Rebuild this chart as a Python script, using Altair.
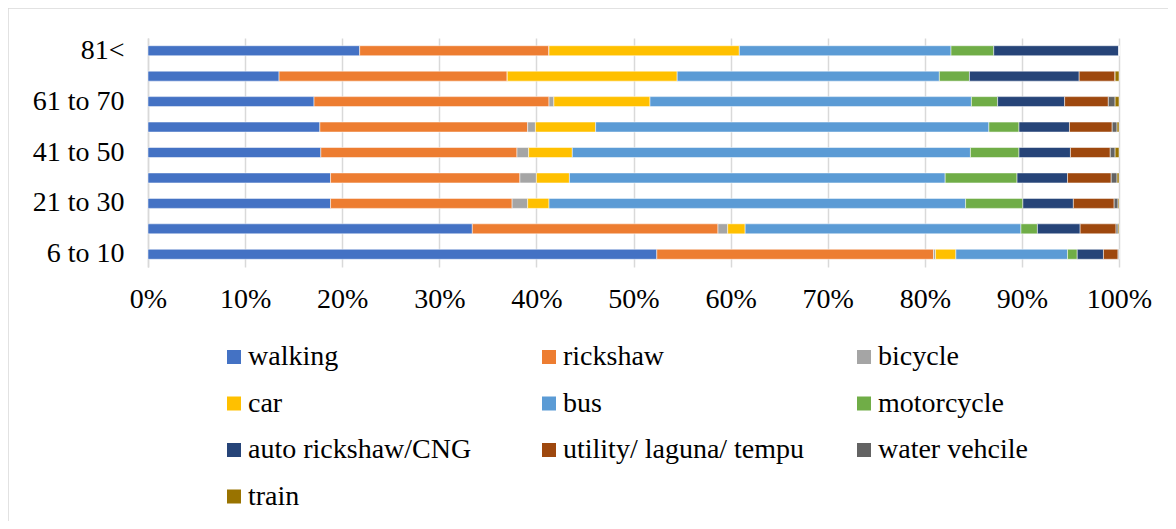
import altair as alt
import pandas as pd

age_groups = ["81<", "71 to 80", "61 to 70", "51 to 60", "41 to 50",
              "31 to 40", "21 to 30", "11 to 20", "6 to 10"]
shown_labels = ["81<", "61 to 70", "41 to 50", "21 to 30", "6 to 10"]
padded_labels = ["61 to 70", "21 to 30"]  # labels that carry a trailing space
modes = ["walking", "rickshaw", "bicycle", "car", "bus", "motorcycle",
         "auto rickshaw/CNG", "utility/ laguna/ tempu", "water vehcile", "train"]
colors = ["#4472C4", "#ED7D31", "#A5A5A5", "#FFC000", "#5B9BD5", "#70AD47",
          "#264478", "#9E480E", "#636363", "#997300"]

# percentage share of each mode, per age group (same order as age_groups)
walking    = [21.8, 13.5, 17.1, 17.7, 17.8, 18.8, 18.8, 33.4, 52.4]
rickshaw   = [19.5, 23.5, 24.2, 21.4, 20.2, 19.5, 18.7, 25.3, 28.5]
bicycle    = [0.0, 0.0, 0.5, 0.8, 1.2, 1.7, 1.6, 1.0, 0.2]
car        = [19.6, 17.5, 9.9, 6.2, 4.5, 3.4, 2.2, 1.8, 2.1]
bus        = [21.8, 27.0, 33.1, 40.5, 41.0, 38.7, 42.9, 28.4, 11.5]
motorcycle = [4.4, 3.1, 2.7, 3.1, 5.0, 7.4, 5.9, 1.7, 1.0]
auto_cng   = [12.9, 11.3, 6.9, 5.2, 5.3, 5.2, 5.2, 4.4, 2.7]
utility    = [0.0, 3.7, 4.5, 4.4, 4.1, 4.5, 4.2, 3.7, 1.5]
water      = [0.0, 0.0, 0.7, 0.5, 0.5, 0.6, 0.4, 0.2, 0.1]
train      = [0.0, 0.4, 0.4, 0.2, 0.4, 0.2, 0.1, 0.1, 0.0]

series = [walking, rickshaw, bicycle, car, bus, motorcycle, auto_cng,
          utility, water, train]

rows = []
for mi, (m, vals) in enumerate(zip(modes, series)):
    for g, v in zip(age_groups, vals):
        rows.append({"age": g, "mode": m, "share": v, "order": mi})
df = pd.DataFrame(rows)

FONT = "'Liberation Serif', 'Times New Roman', Times, serif"
FS = 28
shown_test = " || ".join([f"datum.value == '{l}'" for l in shown_labels])
pad_test = " || ".join([f"datum.value == '{l}'" for l in padded_labels])
label_expr = (f"({pad_test}) ? datum.value + '\u00a0' : "
              f"(({shown_test}) ? datum.value : '')")

bars = alt.Chart(df).mark_bar(size=10, stroke="white", strokeWidth=0.5).encode(
    x=alt.X("share:Q", stack="normalize",
            scale=alt.Scale(domain=[0, 1], nice=False),
            axis=alt.Axis(format=".0%", values=[i / 10 for i in range(11)],
                          title=None, grid=True, gridColor="#D9D9D9",
                          gridWidth=1.5, domain=False, ticks=False,
                          labelFlush=False,
                          labelFont=FONT, labelFontSize=FS, labelColor="black",
                          labelPadding=18)),
    y=alt.Y("age:N", sort=age_groups,
            axis=alt.Axis(title=None, ticks=False, domainColor="#D9D9D9",
                          domainWidth=1.5, labelFont=FONT, labelFontSize=FS,
                          labelColor="black", labelPadding=24,
                          labelExpr=label_expr)),
    color=alt.Color("mode:N", sort=modes,
                    scale=alt.Scale(domain=modes, range=colors),
                    legend=alt.Legend(title=None, orient="none",
                                      direction="horizontal",
                                      legendX=72, legendY=305, columns=3,
                                      gridAlign="all", columnPadding=45,
                                      rowPadding=18.5, symbolType="square",
                                      symbolSize=196, symbolStrokeWidth=0,
                                      labelFont=FONT, labelFontSize=FS,
                                      labelColor="black", labelOffset=0,
                                      labelLimit=400, padding=0)),
    order=alt.Order("order:Q", sort="ascending"),
)

frame = pd.DataFrame({"k": [0]})
top_border = alt.Chart(frame).mark_rule(color="#D9D9D9", strokeWidth=1.5).encode(
    x=alt.value(-140), x2=alt.value(1030), y=alt.value(-30))
left_border = alt.Chart(frame).mark_rule(color="#D9D9D9", strokeWidth=1.5).encode(
    x=alt.value(-140), y=alt.value(-30), y2=alt.value(500))

chart = alt.layer(bars, top_border, left_border).properties(
    width=971, height=229,
    autosize=alt.AutoSizeParams(type="none"),
    padding={"left": 140, "top": 30, "right": 49, "bottom": 254},
).configure_view(stroke=None)

chart.save("out.html", embed_options={"renderer": "svg", "actions": False})
